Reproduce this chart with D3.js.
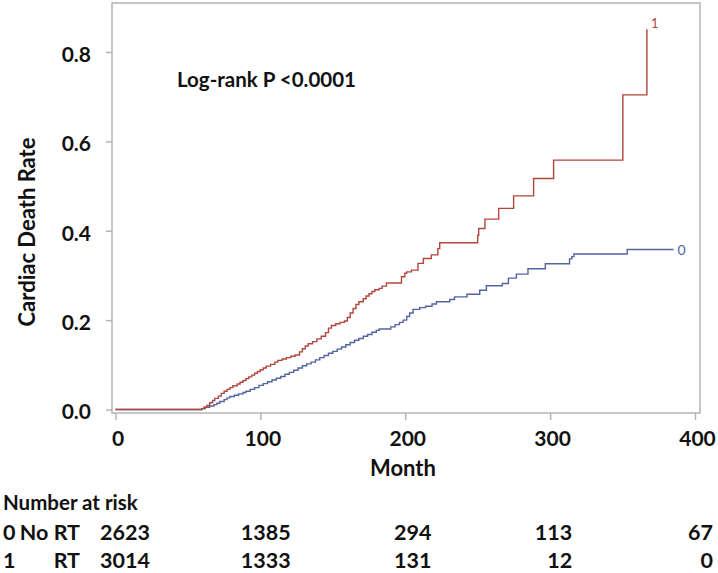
<!DOCTYPE html>
<html>
<head>
<meta charset="utf-8">
<script src="https://cdn.jsdelivr.net/npm/d3@7"></script>
<style>
  html, body { margin: 0; padding: 0; background: #fff; }
  svg { display: block; }
  text { font-family: Lato, "Open Sans", sans-serif; }
</style>
</head>
<body>
<svg id="chart" width="718" height="573"></svg>
<script>
// ---- data ----
const xTicks = [0, 100, 200, 300, 400];
const yTicks = [0.0, 0.2, 0.4, 0.6, 0.8];
const xLabel = "Month";
const yLabel = "Cardiac Death Rate";
const annotation = "Log-rank P <0.0001";

// group 1 (RT): [month, cumulative death rate] step points
const rtTimes = [0, 59.5, 61, 63, 65, 67, 68.5, 71, 73, 75, 77, 79, 81, 84, 86, 88, 90, 92, 94, 96, 98, 100, 102, 104, 107, 110, 112, 115, 118, 121, 124, 127, 129, 131, 133, 136, 139, 142, 145, 147, 149, 152, 155, 158, 160, 162, 164, 166, 168, 171, 173, 175, 177, 179, 182, 184, 187, 197.4, 199.7, 201, 204.3, 208.8, 212.5, 218, 222.5, 223.8, 250, 250.7, 255, 264.5, 274.8, 288.6, 302.4, 350.2, 366.8];
const rtValues = [0, 0.002, 0.005, 0.009, 0.015, 0.020, 0.025, 0.030, 0.036, 0.041, 0.045, 0.049, 0.053, 0.057, 0.061, 0.065, 0.069, 0.073, 0.077, 0.081, 0.085, 0.089, 0.093, 0.097, 0.101, 0.106, 0.110, 0.113, 0.116, 0.119, 0.122, 0.129, 0.136, 0.142, 0.147, 0.152, 0.158, 0.164, 0.172, 0.182, 0.188, 0.192, 0.195, 0.198, 0.206, 0.216, 0.226, 0.235, 0.241, 0.248, 0.254, 0.259, 0.264, 0.268, 0.271, 0.276, 0.283, 0.297, 0.305, 0.308, 0.312, 0.327, 0.338, 0.346, 0.360, 0.373, 0.390, 0.405, 0.426, 0.450, 0.478, 0.517, 0.558, 0.704, 0.851];
const rtEnd = 366.8;

// group 0 (No RT)
const noRtTimes = [0, 59.5, 62, 65, 68, 70, 72, 75, 77, 79, 82, 85, 88, 90, 93, 96, 99, 102, 105, 108, 111, 114, 117, 120, 123, 126, 129, 132, 135, 138, 141, 144, 147, 150, 153, 156, 159, 162, 165, 168, 171, 174, 177, 180, 182, 190, 193, 196, 198.5, 201, 203, 205.4, 210, 214, 218.5, 221.5, 230.7, 234, 242.6, 251.4, 256, 267, 271.2, 276.7, 284.7, 296.7, 313.4, 315, 316.4, 353.2];
const noRtValues = [0, 0.002, 0.005, 0.008, 0.011, 0.014, 0.018, 0.022, 0.026, 0.029, 0.032, 0.035, 0.038, 0.041, 0.045, 0.049, 0.054, 0.058, 0.062, 0.066, 0.070, 0.074, 0.079, 0.083, 0.088, 0.093, 0.098, 0.102, 0.106, 0.111, 0.116, 0.121, 0.126, 0.130, 0.135, 0.140, 0.145, 0.150, 0.155, 0.159, 0.164, 0.168, 0.173, 0.177, 0.180, 0.185, 0.190, 0.195, 0.200, 0.208, 0.216, 0.224, 0.228, 0.231, 0.236, 0.241, 0.246, 0.252, 0.258, 0.267, 0.277, 0.282, 0.294, 0.303, 0.315, 0.326, 0.337, 0.342, 0.348, 0.358];
const noRtEnd = 385.2;

// number at risk
const riskHeader = "Number at risk";
const riskGroups = ["0", "1"];
const riskNames = ["No RT", "RT"];
const riskNoRt = [2623, 1385, 294, 113, 67];
const riskRt = [3014, 1333, 131, 12, 0];

// ---- drawing ----
const svg = d3.select("#chart");
const x = d3.scaleLinear().domain([0, 400]).range([115.5, 695]);
const y = d3.scaleLinear().domain([0, 0.8]).range([409.5, 52]);

const frame = {left: 112, right: 700, top: 3, bottom: 413};
const gray = "#b4b4b4";

// frame
svg.append("rect")
  .attr("x", frame.left).attr("y", frame.top)
  .attr("width", frame.right - frame.left).attr("height", frame.bottom - frame.top)
  .attr("fill", "none").attr("stroke", gray).attr("stroke-width", 1.5);

// y axis
const gy = svg.append("g").attr("transform", `translate(${frame.left},0)`)
  .call(d3.axisLeft(y).tickValues(yTicks).tickFormat(d3.format(".1f")).tickSize(6).tickPadding(15).tickSizeOuter(0));
gy.select(".domain").remove();
gy.selectAll(".tick line").attr("stroke", gray).attr("stroke-width", 1.5);
gy.selectAll(".tick text").attr("font-size", 21).attr("font-weight", "bold").attr("fill", "#111")
  .attr("font-family", "Lato").attr("dy", "0.45em");

// x axis
const gx = svg.append("g").attr("transform", `translate(0,${frame.bottom})`)
  .call(d3.axisBottom(x).tickValues(xTicks).tickFormat(d3.format("d")).tickSize(7).tickPadding(11).tickSizeOuter(0));
gx.select(".domain").remove();
gx.selectAll(".tick line").attr("stroke", gray).attr("stroke-width", 1.5);
gx.selectAll(".tick text").attr("font-size", 21).attr("font-weight", "bold").attr("fill", "#111")
  .attr("font-family", "Lato").attr("dx", 2);

// axis labels
svg.append("text").attr("x", 403).attr("y", 476).attr("text-anchor", "middle")
  .attr("font-size", 22).attr("font-weight", "bold").attr("fill", "#111").text(xLabel);
svg.append("text").attr("transform", "translate(35,232) rotate(-90)").attr("text-anchor", "middle")
  .attr("font-size", 22).attr("font-weight", "bold").attr("fill", "#111").text(yLabel);

// annotation
svg.append("text").attr("x", 177).attr("y", 87)
  .attr("font-size", 20.5).attr("font-weight", "bold").attr("fill", "#111").text(annotation);

// curves
function series(times, values, end) {
  const pts = times.map((t, i) => [t, values[i]]);
  const last = pts[pts.length - 1];
  if (end > last[0]) pts.push([end, last[1]]);
  return pts;
}
const line = d3.line().x(d => x(d[0])).y(d => y(d[1])).curve(d3.curveStepAfter);

const rtData = series(rtTimes, rtValues, rtEnd);
const noRtData = series(noRtTimes, noRtValues, noRtEnd);

svg.append("path").datum(noRtData).attr("d", line)
  .attr("fill", "none").attr("stroke", "#5363a0").attr("stroke-width", 1.4);
svg.append("path").datum(rtData).attr("d", line)
  .attr("fill", "none").attr("stroke", "#b0463c").attr("stroke-width", 1.4);

// curve end labels
const rtLast = rtData[rtData.length - 1];
svg.append("text").attr("x", x(rtLast[0]) + 4).attr("y", y(rtLast[1]) - 1)
  .attr("font-family", "Liberation Sans, Arial, sans-serif")
  .attr("font-size", 13).attr("fill", "#b0463c").text("1");
const noRtLast = noRtData[noRtData.length - 1];
svg.append("text").attr("x", x(noRtLast[0]) + 4).attr("y", y(noRtLast[1]) + 5)
  .attr("font-family", "Liberation Sans, Arial, sans-serif")
  .attr("font-size", 14).attr("fill", "#5363a0").text("0");

// number at risk table
const col = d3.scaleLinear().domain([0, 400]).range([150, 713]);
const tbl = svg.append("g").attr("font-size", 21.5).attr("font-weight", "bold").attr("fill", "#111");
tbl.append("text").attr("x", 3).attr("y", 510).attr("font-size", 20.5).text(riskHeader);
const rows = [riskNoRt, riskRt];
const rowY = [540, 568];
rows.forEach((vals, r) => {
  tbl.append("text").attr("x", 3).attr("y", rowY[r]).text(riskGroups[r]);
  tbl.append("text").attr("x", 80).attr("y", rowY[r]).attr("text-anchor", "end").text(riskNames[r]);
  vals.forEach((v, i) => {
    tbl.append("text").attr("x", col(xTicks[i])).attr("y", rowY[r]).attr("text-anchor", "end").text(v);
  });
});
</script>
</body>
</html>
